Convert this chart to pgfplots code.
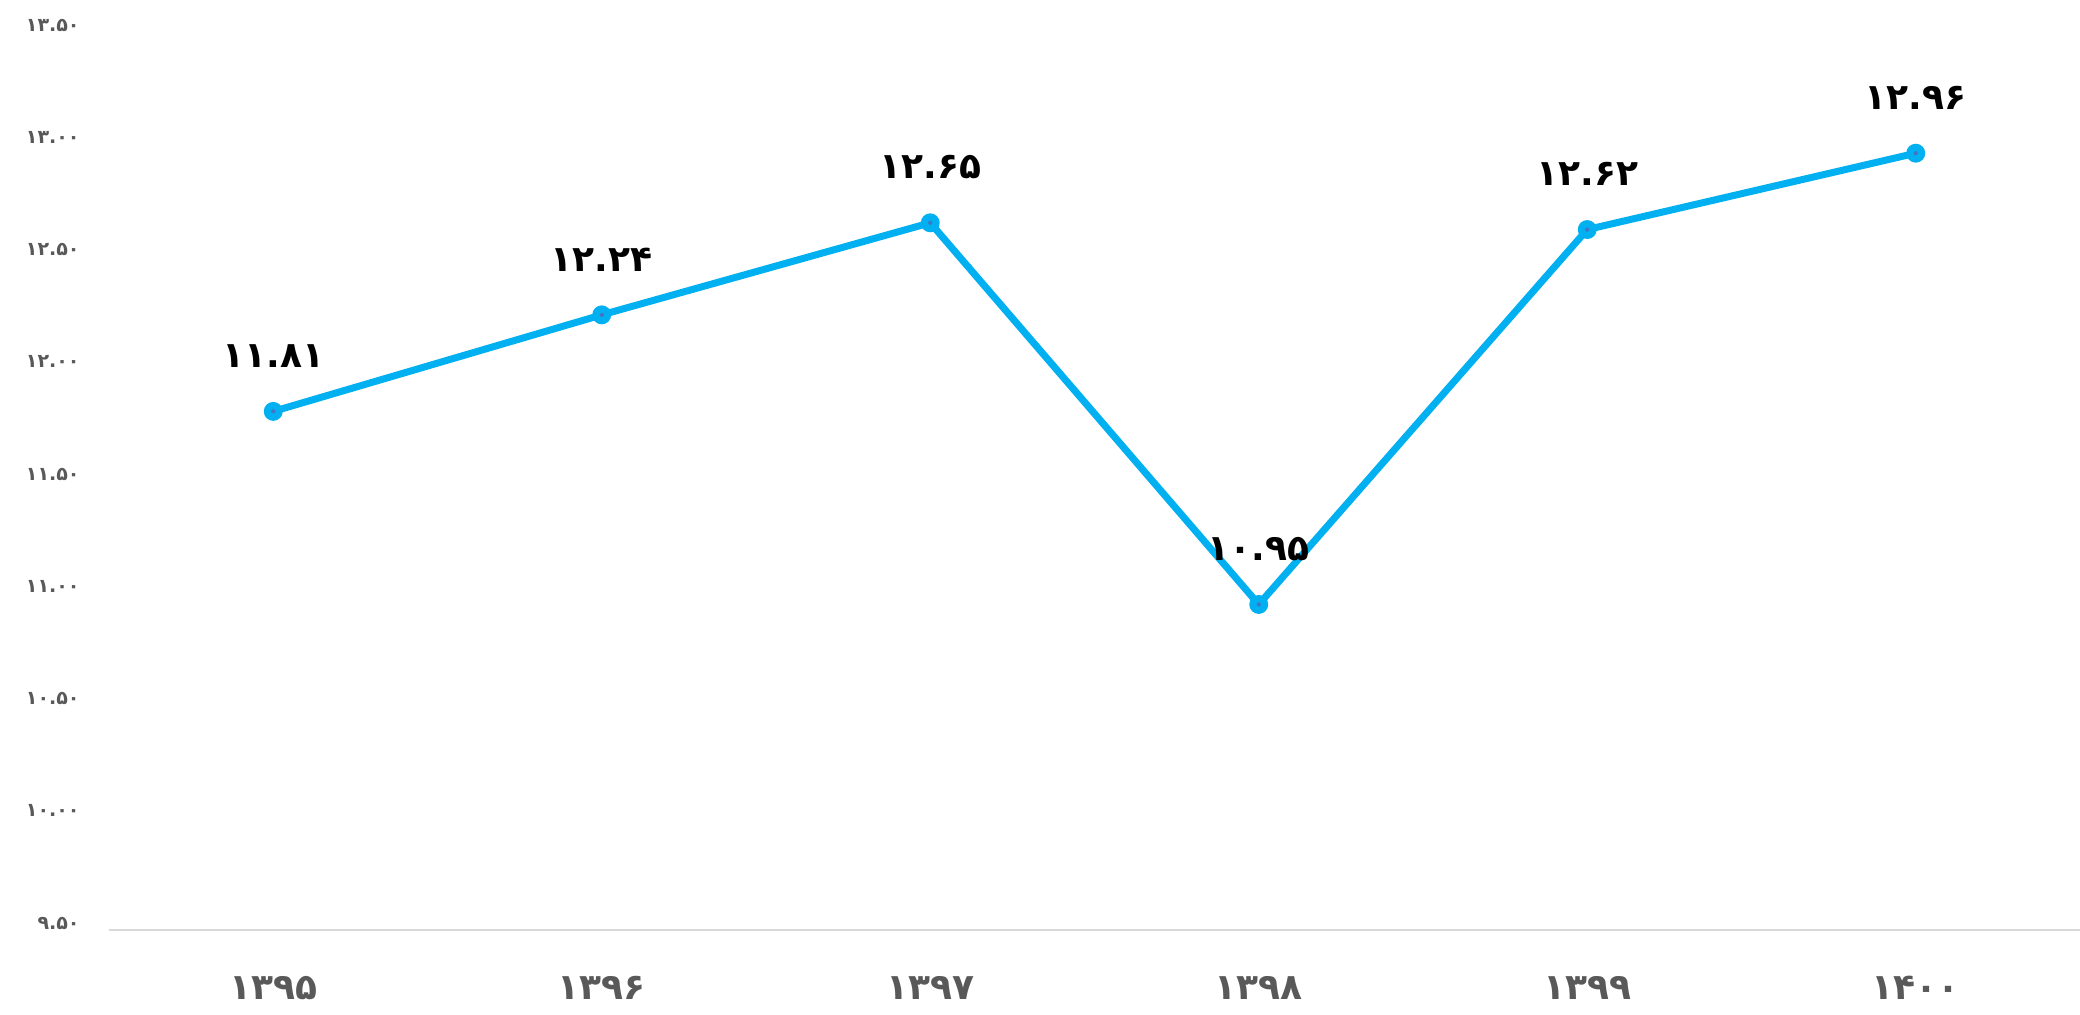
\documentclass[border=0pt]{standalone}
\usepackage{fontspec}
\usepackage{pgfplots}
\pgfplotsset{compat=1.18}
\newfontfamily\fa[Script=Arabic]{DejaVu Sans}
\definecolor{linecyan}{HTML}{00B0F0}
\definecolor{dotblue}{HTML}{4472C4}
\definecolor{tickgray}{HTML}{595959}
\definecolor{axisgray}{HTML}{D9D9D9}

\begin{document}
\begin{tikzpicture}
\useasboundingbox (-54.5pt,-42.5pt) rectangle (985.5pt,465pt);
\begin{axis}[
  scale only axis, width=985.5pt, height=449pt,
  xmin=-0.5, xmax=5.5, ymin=9.5, ymax=13.5,
  axis x line*=bottom, axis y line*=left,
  x axis line style={-, draw=axisgray, line width=1pt},
  y axis line style={draw=none},
  major tick length=0pt, tick style={draw=none},
  xtick={0,1,2,3,4,5},
  xticklabels={۱۳۹۵,۱۳۹۶,۱۳۹۷,۱۳۹۸,۱۳۹۹,۱۴۰۰},
  xticklabel style={font=\fa\bfseries\fontsize{18}{20}\selectfont, text=tickgray,
    anchor=center, inner sep=0pt, yshift=-29pt},
  ytick={9.5,10,10.5,11,11.5,12,12.5,13,13.5},
  yticklabels={۹.۵۰,۱۰.۰۰,۱۰.۵۰,۱۱.۰۰,۱۱.۵۰,۱۲.۰۰,۱۲.۵۰,۱۳.۰۰,۱۳.۵۰},
  yticklabel style={font=\fa\bfseries\fontsize{9.5}{11}\selectfont, text=tickgray,
    anchor=east, inner sep=0pt, xshift=-14.5pt, yshift=3.5pt},
  nodes near coords,
  point meta=explicit symbolic,
  nodes near coords style={font=\fa\bfseries\fontsize{18}{20}\selectfont, text=black,
    anchor=south, inner sep=0pt, yshift=20pt},
  clip=false,
]
\addplot[color=linecyan, line width=3.5pt, mark=*, mark size=2.9pt,
  mark options={draw=linecyan, fill=dotblue, line width=3.6pt}]
  coordinates {
    (0,11.81) [۱۱.۸۱]
    (1,12.24) [۱۲.۲۴]
    (2,12.65) [۱۲.۶۵]
    (3,10.95) [۱۰.۹۵]
    (4,12.62) [۱۲.۶۲]
    (5,12.96) [۱۲.۹۶]
  };
\end{axis}
\end{tikzpicture}
\end{document}
